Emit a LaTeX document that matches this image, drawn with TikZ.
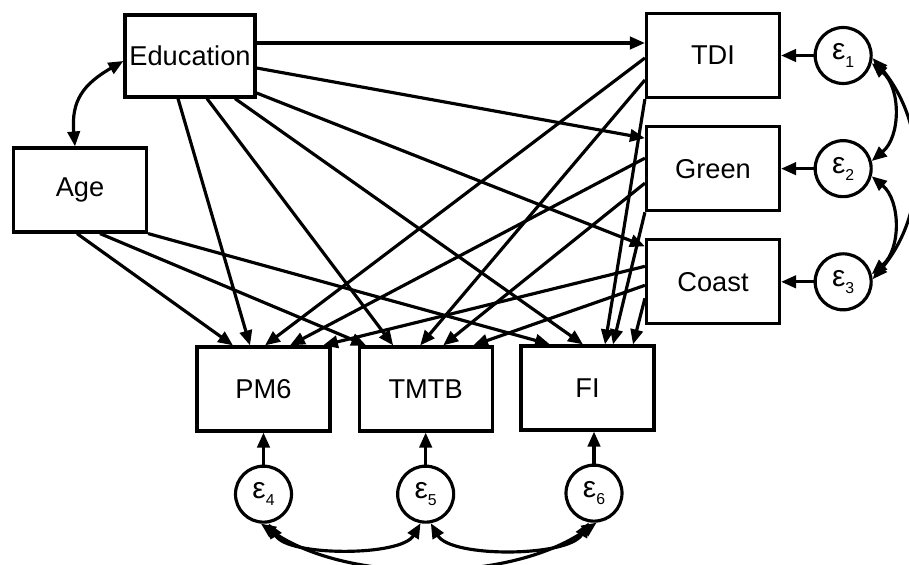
\documentclass[tikz,border=0pt]{standalone}
\usepackage{fontspec}
\setmainfont{Liberation Sans}
\usetikzlibrary{calc,arrows.meta,positioning}

\newcommand{\errterm}[1]{{\fontsize{17}{18}\selectfont ε}\raisebox{-0.5ex}{\fontsize{9}{10}\selectfont #1}}

\begin{document}
\begin{tikzpicture}[
		>={Triangle[length=8.5pt,width=7pt]},	% Pfeilspitzen
		line width=1.8pt,						% Linienstaerke
		font=\fontsize{15.5}{18}\selectfont,	% Schrift
		var/.style={draw, rectangle, minimum width=2.66cm, minimum height=1.68cm, inner sep=2pt},
		err/.style={draw, circle, minimum size=1.12cm, inner sep=0pt},
		eff/.style={->},
		cov/.style={<->}
	]
	\useasboundingbox (0,0) rectangle (18.18,-11.3);

	% Knoten
	\node[var, minimum width=2.6cm, minimum height=1.64cm] (edu) at (3.8,-1.12) {Education};
	\node[var] (age) at (1.6,-3.8) {Age};
	\node[var] (tdi) at (14.26,-1.11) {TDI};
	\node[var, below=0.52cm of tdi] (green) {Green};
	\node[var, below=0.52cm of green] (coast) {Coast};
	\node[var] (pm6) at (5.27,-7.78) {PM6};
	\node[var, right=0.52cm of pm6] (tmtb) {TMTB};
	\node[var] (fi) at (11.75,-7.76) {FI};

	% Fehlerterme
	\node[err, right=0.65cm of tdi] (e1) {\errterm{1}};
	\node[err, right=0.65cm of green] (e2) {\errterm{2}};
	\node[err, right=0.65cm of coast] (e3) {\errterm{3}};
	\node[err, below=0.64cm of pm6] (e4) {\errterm{4}};
	\node[err, below=0.64cm of tmtb] (e5) {\errterm{5}};
	\node[err, below=0.64cm of fi, xshift=0.13cm] (e6) {\errterm{6}};

	% Pfade von Education
	\draw[eff] ([yshift=0.26cm]edu.east) -- ([yshift=0.25cm]tdi.west);
	\draw[eff] ([yshift=-0.24cm]edu.east) -- ([yshift=0.61cm]green.west);
	\draw[eff] ([yshift=-0.74cm]edu.east) -- ([yshift=0.71cm]coast.west);
	\draw[eff] ([xshift=-0.24cm]edu.south) -- ([xshift=-0.27cm]pm6.north);
	\draw[eff] ([xshift=0.34cm]edu.south) -- ([xshift=-0.65cm]tmtb.north);
	\draw[eff] ([xshift=0.90cm]edu.south) -- ([xshift=-0.09cm]fi.north);

	% Pfade von Age
	\draw[eff] ([xshift=-0.06cm]age.south) -- ([xshift=-0.61cm]pm6.north);
	\draw[eff] ([xshift=0.40cm]age.south) -- ([xshift=-1.19cm]tmtb.north);
	\draw[eff] (age.south east) -- ([xshift=-0.75cm]fi.north);

	% Pfade von TDI, Green, Coast
	\draw[eff] ([yshift=-0.05cm]tdi.west) -- ([xshift=0.03cm]pm6.north);
	\draw[eff] ([yshift=-0.49cm]tdi.west) -- ([xshift=-0.11cm]tmtb.north);
	\draw[eff] (tdi.south west) -- ([xshift=0.35cm]fi.north);
	\draw[eff] ([yshift=0.21cm]green.west) -- ([xshift=0.53cm]pm6.north);
	\draw[eff] ([yshift=-0.29cm]green.west) -- ([xshift=0.35cm]tmtb.north);
	\draw[eff] (green.south west) -- ([xshift=0.51cm]fi.north);
	\draw[eff] ([yshift=0.31cm]coast.west) -- ([xshift=1.19cm]pm6.north);
	\draw[eff] ([yshift=-0.07cm]coast.west) -- ([xshift=0.95cm]tmtb.north);
	\draw[eff] ([yshift=-0.33cm]coast.west) -- ([xshift=0.91cm]fi.north);

	% Fehler auf Variablen
	\draw[eff] (e1.west) -- (e1.west -| tdi.east);
	\draw[eff] (e2.west) -- (e2.west -| green.east);
	\draw[eff] (e3.west) -- (e3.west -| coast.east);
	\draw[eff] (e4.north) -- (e4.north |- pm6.south);
	\draw[eff] (e5.north) -- (e5.north |- tmtb.south);
	\draw[eff] (e6.north) -- (e6.north |- fi.south);

	% Kovarianzen
	\draw[cov] ([yshift=-0.1cm]edu.west) to[out=210, in=95, looseness=1.2] ([xshift=-0.1cm]age.north);
	\draw[cov] (e1.-15) to[out=-40, in=40] (e2.15);
	\draw[cov] (e2.-15) to[out=-40, in=40] (e3.15);
	\draw[cov] (e1.-5) to[out=-50, in=50] (e3.5);
	\draw[cov] (e4.-80) to[out=-60, in=-120, looseness=0.65] (e5.-100);
	\draw[cov] (e5.-80) to[out=-60, in=-120, looseness=0.65] (e6.-100);
	\draw[cov] (e4.-95) to[out=-35, in=-145, looseness=0.8] (e6.-85);

\end{tikzpicture}
\end{document}
